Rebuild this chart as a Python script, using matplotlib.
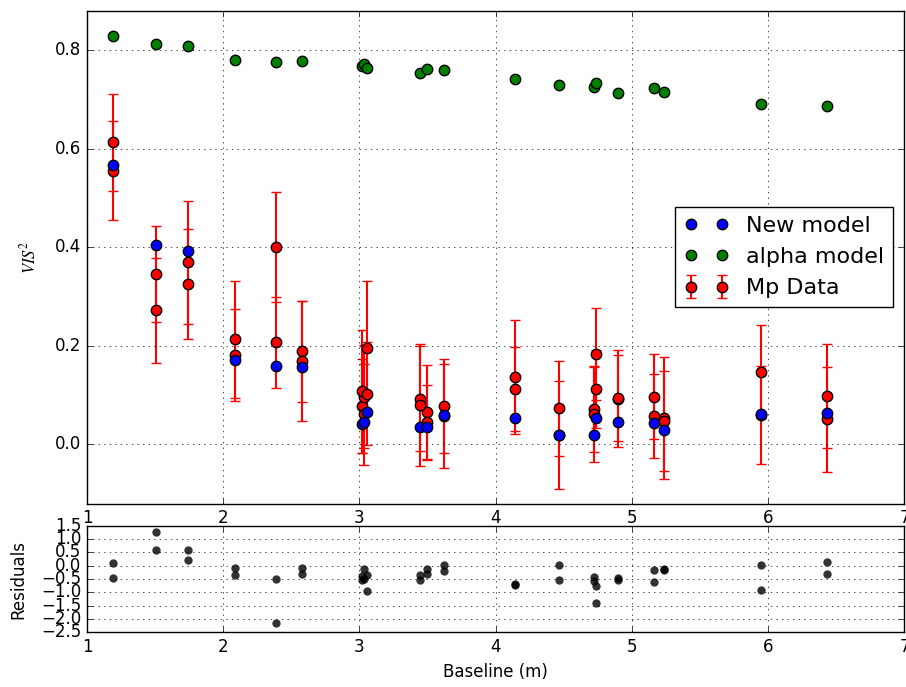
import numpy as np
import matplotlib
matplotlib.use("Agg")
import matplotlib.pyplot as plt

# Baselines (m)
baseline = [1.191, 1.508, 1.739, 2.088, 2.387, 2.580, 3.015, 3.034, 3.054,
            3.443, 3.494, 3.621, 4.138, 4.468, 4.722, 4.739, 4.898, 5.162,
            5.238, 5.945, 6.434]

# Modeles
new_model = [0.567, 0.405, 0.392, 0.171, 0.160, 0.157, 0.041, 0.045, 0.065,
             0.035, 0.035, 0.059, 0.054, 0.020, 0.020, 0.053, 0.046, 0.043,
             0.030, 0.061, 0.064]
alpha_model = [0.829, 0.812, 0.809, 0.780, 0.776, 0.779, 0.768, 0.772, 0.764,
               0.754, 0.762, 0.760, 0.741, 0.729, 0.726, 0.734, 0.714, 0.723,
               0.715, 0.691, 0.687]

# Donnees Mp (deux mesures par baseline)
vis_a = [0.613, 0.346, 0.370, 0.213, 0.401, 0.189, 0.078, 0.097, 0.195,
         0.093, 0.065, 0.078, 0.137, 0.073, 0.072, 0.184, 0.093, 0.097,
         0.053, 0.148, 0.098]
err_a = [0.099, 0.097, 0.125, 0.119, 0.111, 0.102, 0.095, 0.104, 0.136,
         0.107, 0.097, 0.095, 0.116, 0.097, 0.088, 0.093, 0.099, 0.087,
         0.124, 0.094, 0.106]
vis_b = [0.556, 0.272, 0.326, 0.182, 0.207, 0.169, 0.108, 0.061, 0.103,
         0.080, 0.045, 0.058, 0.112, 0.019, 0.061, 0.112, 0.094, 0.057,
         0.047, 0.060, 0.051]
err_b = [0.100, 0.106, 0.111, 0.093, 0.092, 0.122, 0.125, 0.102, 0.105,
         0.124, 0.075, 0.105, 0.085, 0.110, 0.097, 0.079, 0.087, 0.085,
         0.102, 0.100, 0.107]

# Residus
resid_a = [-0.45, 0.60, 0.20, -0.36, -2.14, -0.30, -0.39, -0.50, -0.96,
           -0.54, -0.31, -0.20, -0.72, -0.55, -0.58, -1.40, -0.47, -0.60,
           -0.17, -0.93, -0.32]
resid_b = [0.11, 1.26, 0.60, -0.10, -0.50, -0.09, -0.53, -0.14, -0.36,
           -0.35, -0.11, 0.01, -0.68, 0.01, -0.41, -0.75, -0.55, -0.16,
           -0.14, 0.01, 0.13]

plt.style.use("classic")
plt.rcParams["mathtext.fontset"] = "stix"

fig = plt.figure(figsize=(9.06, 6.87), dpi=100, facecolor="white")
ax = fig.add_axes([0.0960, 0.2671, 0.9023, 0.7169])
axr = fig.add_axes([0.0960, 0.0796, 0.9023, 0.1552])

# Panneau principal
eb_kw = dict(fmt="o", color="red", ecolor="red", mfc="red", mec="k", ms=7.5,
             mew=1, elinewidth=1.5, capsize=3.5, capthick=1.5, zorder=2)
data_h = ax.errorbar(baseline, vis_a, yerr=err_a, label="Mp Data", **eb_kw)
ax.errorbar(baseline, vis_b, yerr=err_b, **eb_kw)
new_h, = ax.plot(baseline, new_model, "o", mfc="blue", mec="k", ms=7.5,
                 mew=1, label="New model", zorder=3)
alpha_h, = ax.plot(baseline, alpha_model, "o", mfc="green", mec="k", ms=7.5,
                   mew=1, label="alpha model", zorder=3)

ax.set_xlim(1, 7)
ax.set_ylim(-0.12, 0.88)
ax.set_yticks([0.0, 0.2, 0.4, 0.6, 0.8])
ax.set_ylabel(r"$VIS^2$")
ax.yaxis.set_label_coords(-0.058, 0.5)
ax.grid(True)
ax.legend([new_h, alpha_h, data_h], ["New model", "alpha model", "Mp Data"],
          loc="center right", numpoints=2, fontsize=16)

# Residus
axr.plot(baseline, resid_a, "o", color="k", alpha=0.8, mew=0, ms=6)
axr.plot(baseline, resid_b, "o", color="k", alpha=0.8, mew=0, ms=6)
axr.set_xlim(1, 7)
axr.set_ylim(-2.5, 1.5)
axr.set_yticks(np.arange(-2.5, 1.51, 0.5))
axr.set_ylabel("Residuals")
axr.yaxis.set_label_coords(-0.073, 0.5)
axr.set_xlabel("Baseline (m)")
axr.grid(True)

fig.savefig("out.png", dpi=100, facecolor="white")
